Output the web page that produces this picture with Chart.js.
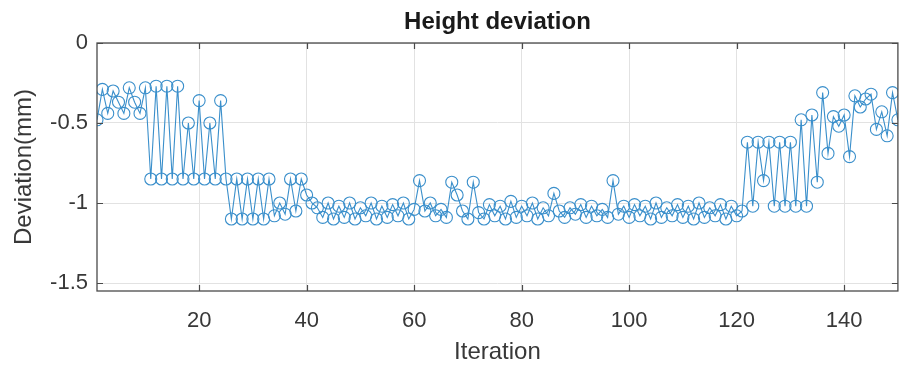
<!DOCTYPE html>
<html>
<head>
<meta charset="utf-8">
<title>Height deviation</title>
<script src="https://cdn.jsdelivr.net/npm/chart.js@4"></script>
<style>
  html, body { margin: 0; padding: 0; background: #fff; }
</style>
</head>
<body>
<canvas id="deviationChart" width="905" height="367"></canvas>
<script>
// Iteration index (x categories)
const iterations = Array.from({ length: 150 }, (_, i) => i + 1);

// Height deviation per iteration (mm)
const deviation = [
  -0.48, -0.29, -0.44, -0.30, -0.37, -0.44, -0.28, -0.37, -0.44, -0.28,
  -0.85, -0.27, -0.85, -0.27, -0.85, -0.27, -0.85, -0.50, -0.85, -0.36,
  -0.85, -0.50, -0.85, -0.36, -0.85, -1.10, -0.85, -1.10, -0.85, -1.10,
  -0.85, -1.10, -0.85, -1.08, -1.00, -1.07, -0.85, -1.05, -0.85, -0.95,
  -1.00, -1.03, -1.09, -1.00, -1.10, -1.02, -1.09, -1.00, -1.10, -1.03,
  -1.08, -1.00, -1.10, -1.02, -1.09, -1.01, -1.08, -1.00, -1.10, -1.04,
  -0.86, -1.05, -1.00, -1.08, -1.04, -1.09, -0.87, -0.95, -1.05, -1.10,
  -0.87, -1.06, -1.10, -1.01, -1.08, -1.02, -1.10, -0.99, -1.09, -1.02,
  -1.08, -1.00, -1.10, -1.03, -1.08, -0.94, -1.05, -1.09, -1.03, -1.07,
  -1.01, -1.09, -1.02, -1.08, -1.04, -1.09, -0.86, -1.07, -1.02, -1.09,
  -1.01, -1.08, -1.02, -1.10, -1.00, -1.09, -1.03, -1.08, -1.01, -1.09,
  -1.02, -1.10, -1.00, -1.09, -1.03, -1.08, -1.01, -1.10, -1.02, -1.08,
  -1.05, -0.62, -1.02, -0.62, -0.86, -0.62, -1.02, -0.62, -1.02, -0.62,
  -1.02, -0.48, -1.02, -0.45, -0.87, -0.31, -0.69, -0.46, -0.52, -0.45,
  -0.71, -0.33, -0.40, -0.35, -0.32, -0.54, -0.43, -0.58, -0.31, -0.48,
];

// Axis ticks
const xTicks = [20, 40, 60, 80, 100, 120, 140];
const yTicks = [0, -0.5, -1, -1.5];

const lineColor = "#3a8fcb";
const textColor = "#383838";

/**
 * Axes box, inward tick marks and title (MATLAB style)
 */
const axesBox = {
  id: "axesBox",
  afterDatasetsDraw(chart) {
    const { ctx, chartArea: a, scales } = chart;
    ctx.save();
    ctx.strokeStyle = "#4a4a4a";
    ctx.lineWidth = 1.3;
    ctx.strokeRect(a.left, a.top, a.right - a.left, a.bottom - a.top);

    ctx.lineWidth = 1.2;
    ctx.beginPath();
    xTicks.forEach((v) => {
      const px = Math.round(scales.x.getPixelForValue(v)) + 0.5;
      ctx.moveTo(px, a.bottom);
      ctx.lineTo(px, a.bottom - 6);
      ctx.moveTo(px, a.top);
      ctx.lineTo(px, a.top + 6);
    });
    yTicks.forEach((v) => {
      const py = Math.round(scales.y.getPixelForValue(v)) + 0.5;
      ctx.moveTo(a.left, py);
      ctx.lineTo(a.left + 6, py);
      ctx.moveTo(a.right, py);
      ctx.lineTo(a.right - 6, py);
    });
    ctx.stroke();

    // Title centered over the plot area
    ctx.fillStyle = "#1a1a1a";
    ctx.font = "bold 24px 'Liberation Sans', Arial, sans-serif";
    ctx.textAlign = "center";
    ctx.textBaseline = "middle";
    ctx.fillText("Height deviation", (a.left + a.right) / 2, 22);
    ctx.restore();
  },
};

const ctx = document.getElementById("deviationChart").getContext("2d");

new Chart(ctx, {
  type: "line",
  data: {
    datasets: [
      {
        label: "Deviation",
        data: iterations.map((it, i) => ({ x: it, y: deviation[i] })),
        borderColor: lineColor,
        borderWidth: 1.1,
        pointRadius: 6,
        pointBorderWidth: 1.1,
        pointBorderColor: lineColor,
        pointBackgroundColor: "rgba(0,0,0,0)",
        tension: 0,
        fill: false,
      },
    ],
  },
  options: {
    responsive: false,
    animation: false,
    layout: {
      padding: { top: 43, right: 6, bottom: 0, left: 0 },
    },
    plugins: {
      legend: { display: false },
      tooltip: { enabled: false },
    },
    scales: {
      x: {
        type: "linear",
        min: 1,
        max: 150,
        afterBuildTicks: (s) => {
          s.ticks = xTicks.map((v) => ({ value: v }));
        },
        afterFit: (s) => {
          s.height = 76;
        },
        grid: { color: "#e2e2e2", drawTicks: false },
        border: { display: false },
        ticks: {
          color: textColor,
          font: { family: "'Liberation Sans', Arial, sans-serif", size: 22 },
          padding: 17,
          maxRotation: 0,
        },
        title: {
          display: true,
          text: "Iteration",
          color: textColor,
          font: { family: "'Liberation Sans', Arial, sans-serif", size: 24 },
          padding: { top: 0, bottom: 0 },
        },
      },
      y: {
        min: -1.55,
        max: 0,
        afterBuildTicks: (s) => {
          s.ticks = yTicks.map((v) => ({ value: v }));
        },
        afterFit: (s) => {
          s.width = 97;
        },
        grid: { color: "#e2e2e2", drawTicks: false },
        border: { display: false },
        ticks: {
          color: textColor,
          font: { family: "'Liberation Sans', Arial, sans-serif", size: 22 },
          padding: 9,
          callback: (v) => String(v),
        },
        title: {
          display: true,
          text: "Deviation(mm)",
          color: textColor,
          font: { family: "'Liberation Sans', Arial, sans-serif", size: 24 },
          padding: { top: 10, bottom: 0 },
        },
      },
    },
  },
  plugins: [axesBox],
});
</script>
</body>
</html>
